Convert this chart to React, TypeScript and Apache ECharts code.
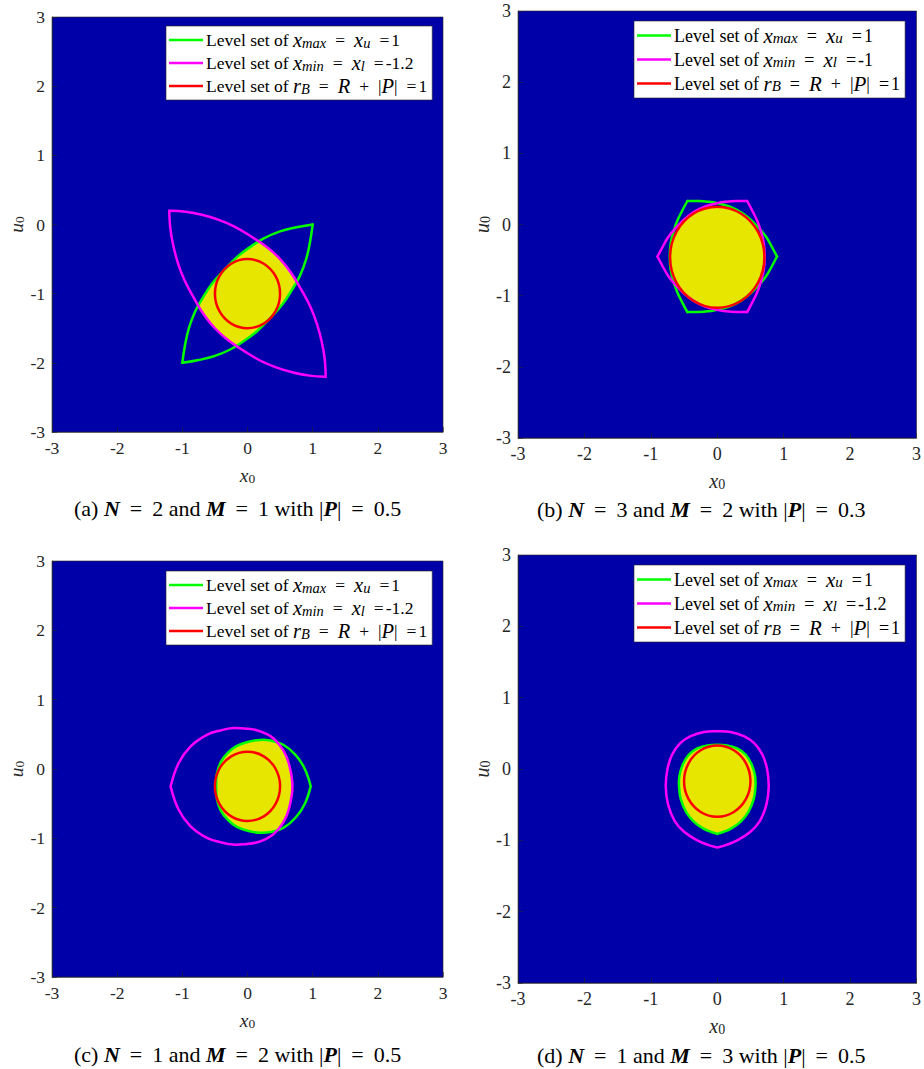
import React, { useEffect, useRef } from 'react';
import * as echarts from 'echarts';

type Pt = [number, number];

// Shared axis ticks for all four panels
const TICKS = [-3, -2, -1, 0, 1, 2, 3];

const BLUE = '#0000A9';
const YELLOW = '#E6E600';
const GREEN = '#00FF00';
const MAGENTA = '#FF00FF';
const RED = '#FF0000';
const INK = '#262626';
const FONT = '"Liberation Serif", "Times New Roman", serif';

// Threshold values quoted in the legends
const X_U = '1';
const R_B = '1';

// ---------- (a) N = 2, M = 1, |P| = 0.5 ----------
const A_XMAX_UPPER: Pt[] = [[-1, -2], [-0.96, -1.75], [-0.9, -1.5], [-0.8, -1.25], [-0.68, -1.05], [-0.54, -0.85], [-0.35, -0.65], [-0.15, -0.46], [0.05, -0.32], [0.25, -0.2], [0.5, -0.1], [0.75, -0.04], [1, 0]];
const A_XMAX_LOWER: Pt[] = [[1, 0], [0.96, -0.25], [0.9, -0.5], [0.8, -0.75], [0.68, -0.95], [0.54, -1.15], [0.35, -1.35], [0.15, -1.54], [-0.05, -1.68], [-0.25, -1.8], [-0.5, -1.9], [-0.75, -1.96], [-1, -2]];
const A_XMIN_UPPER: Pt[] = [[-1.2, 0.2], [-0.95, 0.185], [-0.7, 0.14], [-0.45, 0.07], [-0.2, -0.03], [0.05, -0.17], [0.3, -0.33], [0.5, -0.5], [0.67, -0.7], [0.83, -0.95], [0.97, -1.2], [1.07, -1.45], [1.14, -1.7], [1.185, -1.95], [1.2, -2.2]];
const A_XMIN_LOWER: Pt[] = [[1.2, -2.2], [0.95, -2.185], [0.7, -2.14], [0.45, -2.07], [0.2, -1.97], [-0.05, -1.83], [-0.3, -1.67], [-0.5, -1.5], [-0.67, -1.3], [-0.83, -1.05], [-0.97, -0.8], [-1.07, -0.55], [-1.14, -0.3], [-1.185, -0.05], [-1.2, 0.2]];
const A_RB: Pt[] = [[0.5, -1], [0.433, -0.75], [0.25, -0.567], [0, -0.5], [-0.25, -0.567], [-0.433, -0.75], [-0.5, -1], [-0.433, -1.25], [-0.25, -1.433], [0, -1.5], [0.25, -1.433], [0.433, -1.25]];
const A_FEASIBLE: Pt[] = [[-0.75, -1.17], [-0.68, -1.05], [-0.54, -0.85], [-0.35, -0.65], [-0.15, -0.46], [0.05, -0.32], [0.17, -0.25], [0.3, -0.33], [0.5, -0.5], [0.67, -0.7], [0.75, -0.83], [0.68, -0.95], [0.54, -1.15], [0.35, -1.35], [0.15, -1.54], [-0.05, -1.68], [-0.17, -1.75], [-0.3, -1.67], [-0.5, -1.5], [-0.67, -1.3]];

// ---------- (b) N = 3, M = 2, |P| = 0.3 ----------
const B_XMAX_1: Pt[] = [[0.9, -0.45], [0.82, -0.31], [0.74, -0.18], [0.65, -0.075], [0.51, 0.06], [0.36, 0.17], [0.19, 0.25], [0, 0.3], [-0.14, 0.32], [-0.28, 0.33], [-0.45, 0.33]];
const B_XMAX_2: Pt[] = [[-0.45, 0.33], [-0.53, 0.19], [-0.6, 0.055], [-0.65, -0.075], [-0.7, -0.26], [-0.715, -0.45], [-0.7, -0.64], [-0.65, -0.825], [-0.6, -0.955], [-0.53, -1.09], [-0.45, -1.23]];
const B_XMAX_3: Pt[] = [[-0.45, -1.23], [-0.28, -1.23], [-0.14, -1.22], [0, -1.2], [0.19, -1.15], [0.36, -1.07], [0.51, -0.96], [0.65, -0.825], [0.74, -0.72], [0.82, -0.59], [0.9, -0.45]];
const B_XMIN_1: Pt[] = [[-0.9, -0.45], [-0.82, -0.31], [-0.74, -0.18], [-0.65, -0.075], [-0.51, 0.06], [-0.36, 0.17], [-0.19, 0.25], [0, 0.3], [0.14, 0.32], [0.28, 0.33], [0.45, 0.33]];
const B_XMIN_2: Pt[] = [[0.45, 0.33], [0.53, 0.19], [0.6, 0.055], [0.65, -0.075], [0.7, -0.26], [0.715, -0.45], [0.7, -0.64], [0.65, -0.825], [0.6, -0.955], [0.53, -1.09], [0.45, -1.23]];
const B_XMIN_3: Pt[] = [[0.45, -1.23], [0.28, -1.23], [0.14, -1.22], [0, -1.2], [-0.19, -1.15], [-0.36, -1.07], [-0.51, -0.96], [-0.65, -0.825], [-0.74, -0.72], [-0.82, -0.59], [-0.9, -0.45]];
const B_RB: Pt[] = [[0.71, -0.46], [0.615, -0.105], [0.355, 0.155], [0, 0.25], [-0.355, 0.155], [-0.615, -0.105], [-0.71, -0.46], [-0.615, -0.815], [-0.355, -1.075], [0, -1.17], [0.355, -1.075], [0.615, -0.815]];
const B_FEASIBLE: Pt[] = [[0.71, -0.46], [0.615, -0.105], [0.355, 0.155], [0, 0.25], [-0.355, 0.155], [-0.615, -0.105], [-0.71, -0.46], [-0.615, -0.815], [-0.355, -1.075], [0, -1.17], [0.355, -1.075], [0.615, -0.815]];

// ---------- (c) N = 1, M = 2, |P| = 0.5 ----------
const C_XMAX: Pt[] = [[0.97, -0.25], [0.88, 0.0], [0.74, 0.2], [0.55, 0.35], [0.35, 0.41], [0.19, 0.42], [0, 0.39], [-0.17, 0.33], [-0.3, 0.235], [-0.41, 0.1], [-0.47, -0.07], [-0.48, -0.25], [-0.47, -0.43], [-0.41, -0.6], [-0.3, -0.735], [-0.17, -0.83], [0, -0.89], [0.19, -0.92], [0.35, -0.91], [0.55, -0.85], [0.74, -0.7], [0.88, -0.5], [0.97, -0.25]];
const C_XMIN: Pt[] = [[-1.18, -0.25], [-1.06, 0.08], [-0.88, 0.32], [-0.63, 0.49], [-0.4, 0.56], [-0.22, 0.59], [0, 0.58], [0.14, 0.56], [0.27, 0.515], [0.4, 0.44], [0.55, 0.27], [0.64, 0.06], [0.69, -0.25], [0.64, -0.56], [0.55, -0.77], [0.4, -0.94], [0.27, -1.015], [0.14, -1.06], [0, -1.08], [-0.22, -1.09], [-0.4, -1.06], [-0.63, -0.99], [-0.88, -0.82], [-1.06, -0.58], [-1.18, -0.25]];
const C_RB: Pt[] = [[0.5, -0.25], [0.433, 0], [0.25, 0.183], [0, 0.25], [-0.25, 0.183], [-0.433, 0], [-0.5, -0.25], [-0.433, -0.5], [-0.25, -0.683], [0, -0.75], [0.25, -0.683], [0.433, -0.5]];
const C_FEASIBLE: Pt[] = [[0.45, 0.38], [0.35, 0.41], [0.19, 0.42], [0, 0.39], [-0.17, 0.33], [-0.3, 0.235], [-0.41, 0.1], [-0.47, -0.07], [-0.48, -0.25], [-0.47, -0.43], [-0.41, -0.6], [-0.3, -0.735], [-0.17, -0.83], [0, -0.89], [0.19, -0.92], [0.35, -0.91], [0.45, -0.88], [0.55, -0.77], [0.64, -0.56], [0.69, -0.25], [0.64, 0.06], [0.55, 0.27]];

// ---------- (d) N = 1, M = 3, |P| = 0.5 ----------
const D_XMAX: Pt[] = [[0, -0.91], [0.1, -0.88], [0.2, -0.84], [0.35, -0.74], [0.47, -0.6], [0.55, -0.42], [0.575, -0.25], [0.57, -0.1], [0.52, 0.06], [0.43, 0.2], [0.3, 0.29], [0.15, 0.33], [0, 0.34], [-0.15, 0.33], [-0.3, 0.29], [-0.43, 0.2], [-0.52, 0.06], [-0.57, -0.1], [-0.575, -0.25], [-0.55, -0.42], [-0.47, -0.6], [-0.35, -0.74], [-0.2, -0.84], [-0.1, -0.88], [0, -0.91]];
const D_XMIN: Pt[] = [[0, -1.1], [0.15, -1.06], [0.3, -1.0], [0.5, -0.88], [0.64, -0.73], [0.74, -0.5], [0.775, -0.25], [0.75, 0.0], [0.68, 0.2], [0.56, 0.36], [0.4, 0.46], [0.2, 0.52], [0, 0.53], [-0.2, 0.52], [-0.4, 0.46], [-0.56, 0.36], [-0.68, 0.2], [-0.75, 0.0], [-0.775, -0.25], [-0.74, -0.5], [-0.64, -0.73], [-0.5, -0.88], [-0.3, -1.0], [-0.15, -1.06], [0, -1.1]];
const D_RB: Pt[] = [[0.5, -0.17], [0.433, 0.08], [0.25, 0.263], [0, 0.33], [-0.25, 0.263], [-0.433, 0.08], [-0.5, -0.17], [-0.433, -0.42], [-0.25, -0.603], [0, -0.67], [0.25, -0.603], [0.433, -0.42]];
const D_FEASIBLE: Pt[] = D_XMAX;

interface Panel {
  id: string;
  caption: string;
  xl: string;
  xmax: Pt[][];
  xmin: Pt[][];
  rb: Pt[];
  feasible: Pt[];
  feasibleSmooth: number;
  grid: { left: number; top: number; width: number; height: number };
  legendPos: { left: number; top: number };
  captionPos: { left: number; top: number };
  font: number;
}

const PANELS: Panel[] = [
  {
    id: 'a', caption: '(a) {b|N}{e|=}2 and {b|M}{e|=}1 with |{b|P}|{e|=}0.5', xl: '-1.2',
    xmax: [A_XMAX_UPPER, A_XMAX_LOWER], xmin: [A_XMIN_UPPER, A_XMIN_LOWER], rb: A_RB,
    feasible: A_FEASIBLE, feasibleSmooth: 0,
    grid: { left: 52, top: 17, width: 391, height: 415 },
    legendPos: { left: 166, top: 26 }, captionPos: { left: 74, top: 496 }, font: 17.5,
  },
  {
    id: 'b', caption: '(b) {b|N}{e|=}3 and {b|M}{e|=}2 with |{b|P}|{e|=}0.3', xl: '-1',
    xmax: [B_XMAX_1, B_XMAX_2, B_XMAX_3], xmin: [B_XMIN_1, B_XMIN_2, B_XMIN_3], rb: B_RB,
    feasible: B_FEASIBLE, feasibleSmooth: 0.35,
    grid: { left: 518, top: 11, width: 402, height: 427 },
    legendPos: { left: 634, top: 21 }, captionPos: { left: 537, top: 497 }, font: 18,
  },
  {
    id: 'c', caption: '(c) {b|N}{e|=}1 and {b|M}{e|=}2 with |{b|P}|{e|=}0.5', xl: '-1.2',
    xmax: [C_XMAX], xmin: [C_XMIN], rb: C_RB,
    feasible: C_FEASIBLE, feasibleSmooth: 0,
    grid: { left: 52, top: 561, width: 391, height: 416 },
    legendPos: { left: 166, top: 571 }, captionPos: { left: 74, top: 1042 }, font: 17.5,
  },
  {
    id: 'd', caption: '(d) {b|N}{e|=}1 and {b|M}{e|=}3 with |{b|P}|{e|=}0.5', xl: '-1.2',
    xmax: [D_XMAX], xmin: [D_XMIN], rb: D_RB,
    feasible: D_FEASIBLE, feasibleSmooth: 0,
    grid: { left: 518, top: 555, width: 402, height: 428 },
    legendPos: { left: 634, top: 565 }, captionPos: { left: 537, top: 1043 }, font: 18,
  },
];

const LINE_W = 2.5;

function curveSeries(name: string, gi: number, pieces: Pt[][], color: string, closed: boolean, smooth: number, z: number) {
  return {
    type: 'custom',
    name,
    coordinateSystem: 'cartesian2d',
    xAxisIndex: gi,
    yAxisIndex: gi,
    data: [[0, 0]],
    silent: true,
    z,
    itemStyle: { color },
    renderItem: (_params: any, api: any) => ({
      type: 'group',
      children: pieces.map((piece) => ({
        type: closed ? 'polygon' : 'polyline',
        shape: { points: piece.map((q) => api.coord(q)), smooth },
        style: { fill: 'none', stroke: color, lineWidth: LINE_W, lineJoin: 'round', lineCap: 'round' },
      })),
    }),
  };
}

function fillSeries(gi: number, poly: Pt[], smooth: number) {
  return {
    type: 'custom',
    name: 'feasible_' + gi,
    coordinateSystem: 'cartesian2d',
    xAxisIndex: gi,
    yAxisIndex: gi,
    data: [[0, 0]],
    silent: true,
    z: 2,
    renderItem: (_params: any, api: any) => ({
      type: 'polygon',
      shape: { points: poly.map((q) => api.coord(q)), smooth },
      style: { fill: YELLOW, stroke: 'none' },
    }),
  };
}

function buildOption() {
  const tickMin = TICKS[0];
  const tickMax = TICKS[TICKS.length - 1];
  const tickStep = TICKS[1] - TICKS[0];

  const axisCommon = (gi: number, font: number) => ({
    gridIndex: gi,
    type: 'value',
    min: tickMin,
    max: tickMax,
    interval: tickStep,
    axisLine: { show: true, onZero: false, lineStyle: { color: INK, width: 0.6 } },
    axisTick: { show: true, inside: true, length: 5, lineStyle: { color: INK, width: 0.6 } },
    splitLine: { show: false },
    axisLabel: { fontFamily: FONT, fontSize: font, color: INK, margin: 7 },
    nameLocation: 'middle',
    nameTextStyle: {
      fontFamily: FONT,
      fontSize: font + 2,
      color: INK,
      rich: {
        i: { fontFamily: FONT, fontStyle: 'italic', fontSize: font + 2, color: INK, lineHeight: 20 },
        s: { fontFamily: FONT, fontSize: font - 4, color: INK, lineHeight: 9, verticalAlign: 'bottom' },
      },
    },
  });

  const legendRich = (font: number) => ({
    i: { fontFamily: FONT, fontStyle: 'italic', fontSize: font + 3, color: '#000', lineHeight: 20 },
    s: { fontFamily: FONT, fontStyle: 'italic', fontSize: font - 3, color: '#000', lineHeight: 9, verticalAlign: 'bottom' },
    o: { fontFamily: FONT, fontSize: font, color: '#000', lineHeight: 20, padding: [0, 9, 0, 9] },
    q: { fontFamily: FONT, fontSize: font, color: '#000', lineHeight: 20, padding: [0, 2, 0, 9] },
  });

  return {
    animation: false,
    textStyle: { fontFamily: FONT },
    grid: PANELS.map((p) => ({
      ...p.grid,
      show: true,
      backgroundColor: BLUE,
      borderColor: INK,
      borderWidth: 0.6,
      containLabel: false,
    })),
    xAxis: PANELS.map((p, i) => ({
      ...axisCommon(i, p.font),
      position: 'bottom',
      name: '{i|x}{s|0}',
      nameGap: 33,
    })),
    yAxis: PANELS.map((p, i) => ({
      ...axisCommon(i, p.font),
      position: 'left',
      name: '{i|u}{s|0}',
      nameGap: 25,
    })),
    title: PANELS.map((p) => ({
      text: p.caption,
      left: p.captionPos.left,
      top: p.captionPos.top,
      padding: 0,
      textStyle: {
        fontFamily: FONT,
        fontSize: 22,
        fontWeight: 'normal',
        color: '#000',
        lineHeight: 24,
        rich: {
          b: { fontFamily: FONT, fontSize: 22, fontWeight: 'bold', fontStyle: 'italic', color: '#000', lineHeight: 24 },
          e: { fontFamily: FONT, fontSize: 22, color: '#000', lineHeight: 24, padding: [0, 10, 0, 10] },
        },
      },
    })),
    legend: PANELS.map((p) => {
      const labels: Record<string, string> = {
        ['xmax_' + p.id]: `Level set of {i|x}{s|max}{o|=}{i|x}{s|u}{q|=}${X_U}`,
        ['xmin_' + p.id]: `Level set of {i|x}{s|min}{o|=}{i|x}{s|l}{q|=}${p.xl}`,
        ['rb_' + p.id]: `Level set of {i|r}{s|B}{o|=}{i|R}{o|+}|{i|P}|{q|=}${R_B}`,
      };
      return {
        left: p.legendPos.left,
        top: p.legendPos.top,
        orient: 'vertical',
        padding: [4, 5, 4, 3],
        itemGap: 3,
        itemWidth: 34,
        itemHeight: 2.5,
        backgroundColor: '#fff',
        borderColor: INK,
        borderWidth: 0.6,
        borderRadius: 0,
        selectedMode: false,
        data: [
          { name: 'xmax_' + p.id, icon: 'rect', itemStyle: { color: GREEN } },
          { name: 'xmin_' + p.id, icon: 'rect', itemStyle: { color: MAGENTA } },
          { name: 'rb_' + p.id, icon: 'rect', itemStyle: { color: RED } },
        ],
        formatter: (name: string) => labels[name],
        textStyle: {
          fontFamily: FONT,
          fontSize: p.font,
          color: '#000',
          lineHeight: 20,
          padding: [0, 0, 0, -2],
          rich: legendRich(p.font),
        },
      };
    }),
    series: PANELS.flatMap((p, i) => [
      fillSeries(i, p.feasible, p.feasibleSmooth),
      curveSeries('xmax_' + p.id, i, p.xmax, GREEN, false, 0.4, 3),
      curveSeries('xmin_' + p.id, i, p.xmin, MAGENTA, false, 0.4, 4),
      curveSeries('rb_' + p.id, i, [p.rb], RED, true, 0.35, 5),
    ]),
  };
}

export default function App() {
  const ref = useRef<HTMLDivElement>(null);
  useEffect(() => {
    if (!ref.current) return;
    const chart = echarts.init(ref.current, undefined, { renderer: 'svg' });
    chart.setOption(buildOption() as any);
    return () => chart.dispose();
  }, []);
  return (
    <div
      ref={ref}
      style={{ position: 'fixed', left: 0, top: 0, width: 924, height: 1069, background: '#fff' }}
    />
  );
}
